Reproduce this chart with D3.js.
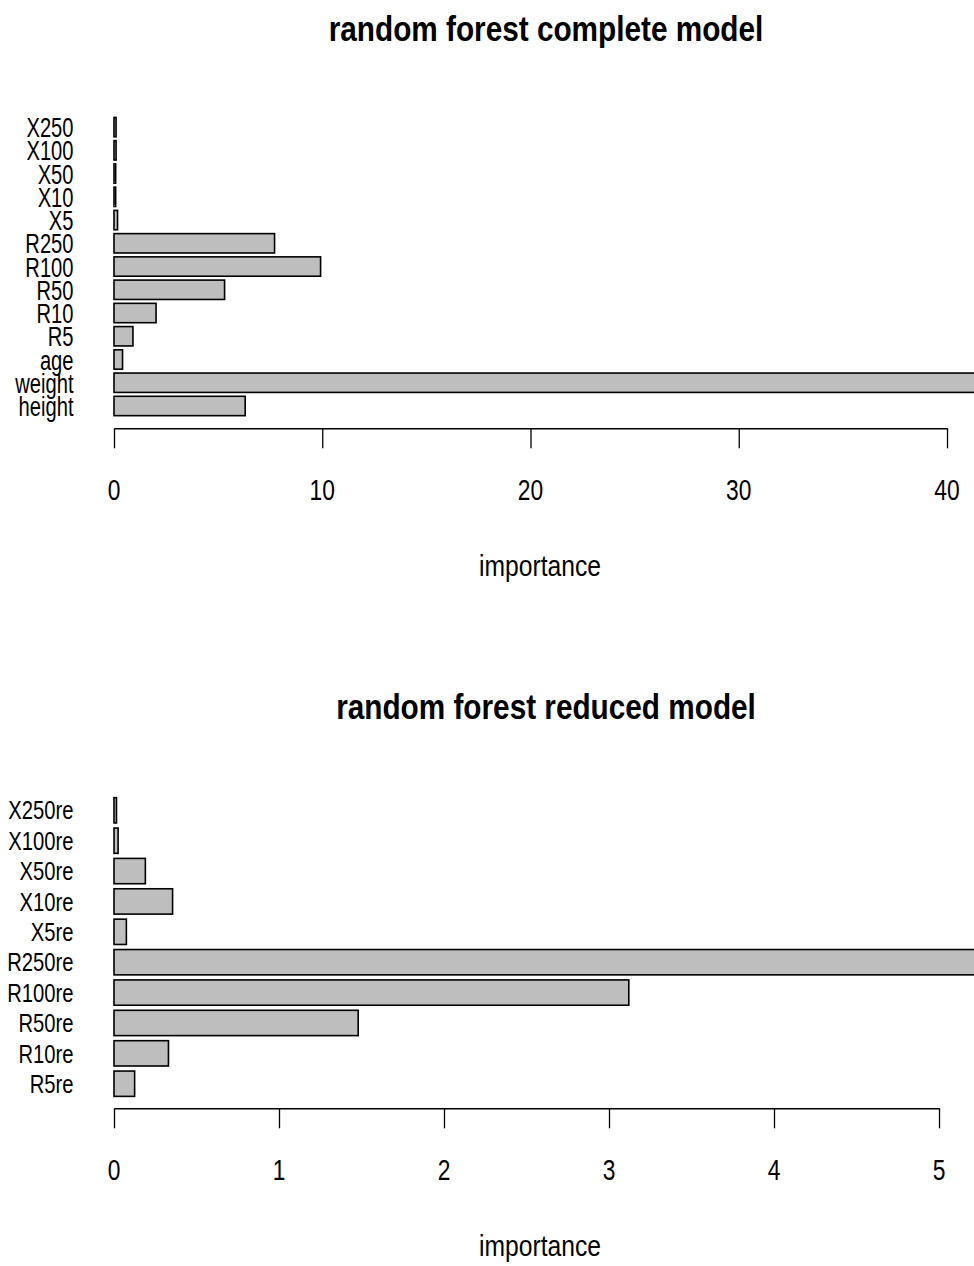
<!DOCTYPE html>
<html>
<head>
<meta charset="utf-8">
<script src="https://cdn.jsdelivr.net/npm/d3@7"></script>
<style>
  html, body { margin: 0; padding: 0; background: #fff; }
  svg { display: block; }
  text { font-family: "Liberation Sans", Arial, Helvetica, sans-serif; fill: #000; }
</style>
</head>
<body>
<svg id="canvas" width="974" height="1266"></svg>
<script>
// Data (top row first, as drawn)
const completeVars = ['X250', 'X100', 'X50', 'X10', 'X5', 'R250', 'R100', 'R50', 'R10', 'R5', 'age', 'weight', 'height'];
const completeImp = [0.10, 0.10, 0.08, 0.08, 0.17, 7.71, 9.92, 5.31, 2.02, 0.91, 0.41, 44.0, 6.30];
const completeTicks = [0, 10, 20, 30, 40];

const reducedVars = ['X250re', 'X100re', 'X50re', 'X10re', 'X5re', 'R250re', 'R100re', 'R50re', 'R10re', 'R5re'];
const reducedImp = [0.015, 0.025, 0.19, 0.355, 0.075, 5.6, 3.12, 1.48, 0.33, 0.125];
const reducedTicks = [0, 1, 2, 3, 4, 5];

const svg = d3.select('#canvas');

// R's text looks horizontally squeezed, so every label gets a scaleX
const label = (g, txt, x, y, size, sx, anchor, bold) => {
    g.append('text')
        .attr('transform', `translate(${x},${y}) scale(${sx},1)`)
        .attr('text-anchor', anchor)
        .style('font-size', size + 'px')
        .style('font-weight', bold ? 'bold' : 'normal')
        .text(txt);
};

const drawPanel = (cfg) => {
    const g = svg.append('g');
    const n = cfg.vars.length;

    const x = d3.scaleLinear()
        .domain([0, cfg.ticks[cfg.ticks.length - 1]])
        .range([114, cfg.xEnd]);

    const y = d3.scaleBand()
        .domain(cfg.vars)
        .range([cfg.yTop - cfg.step / 2, cfg.yTop + (n - 0.5) * cfg.step])
        .paddingInner(0.2 / 1.2)
        .paddingOuter(0.1 / 1.2);

    const data = cfg.vars.map((v, i) => ({ name: v, value: cfg.values[i] }));

    g.selectAll('rect.bar')
        .data(data)
        .enter()
        .append('rect')
        .attr('class', 'bar')
        .attr('x', x(0))
        .attr('y', d => y(d.name))
        .attr('width', d => Math.max(0, x(d.value) - x(0)))
        .attr('height', y.bandwidth())
        .attr('fill', '#bebebe')
        .attr('stroke', '#000')
        .attr('stroke-width', 1.6);

    // category labels
    data.forEach(d => {
        label(g, d.name, 73.5, y(d.name) + y.bandwidth() / 2 + cfg.labSize * 0.358,
            cfg.labSize, cfg.labScale, 'end', false);
    });

    // axis below the bars
    const axis = d3.axisBottom(x)
        .tickValues(cfg.ticks)
        .tickSize(20)
        .tickSizeOuter(0)
        .tickFormat('');
    const ag = g.append('g')
        .attr('transform', `translate(0,${cfg.axisY})`)
        .call(axis);
    ag.select('.domain').attr('stroke', '#000').attr('stroke-width', 1.6);
    ag.selectAll('.tick line').attr('stroke', '#000').attr('stroke-width', 1.3);

    cfg.ticks.forEach(t => {
        label(g, String(t), x(t), cfg.axisY + 72, 30, 0.76, 'middle', false);
    });

    label(g, 'importance', 540, cfg.axisY + 148, 29, 0.85, 'middle', false);
    label(g, cfg.title, 546, cfg.titleY, 35, 0.85, 'middle', true);
};

drawPanel({
    vars: completeVars,
    values: completeImp,
    ticks: completeTicks,
    xEnd: 947,
    yTop: 127.1,
    step: 23.24,
    axisY: 428.3,
    labSize: 28,
    labScale: 0.72,
    title: 'random forest complete model',
    titleY: 41
});

drawPanel({
    vars: reducedVars,
    values: reducedImp,
    ticks: reducedTicks,
    xEnd: 939,
    yTop: 810.3,
    step: 30.38,
    axisY: 1108.3,
    labSize: 25.6,
    labScale: 0.79,
    title: 'random forest reduced model',
    titleY: 719
});
</script>
</body>
</html>
